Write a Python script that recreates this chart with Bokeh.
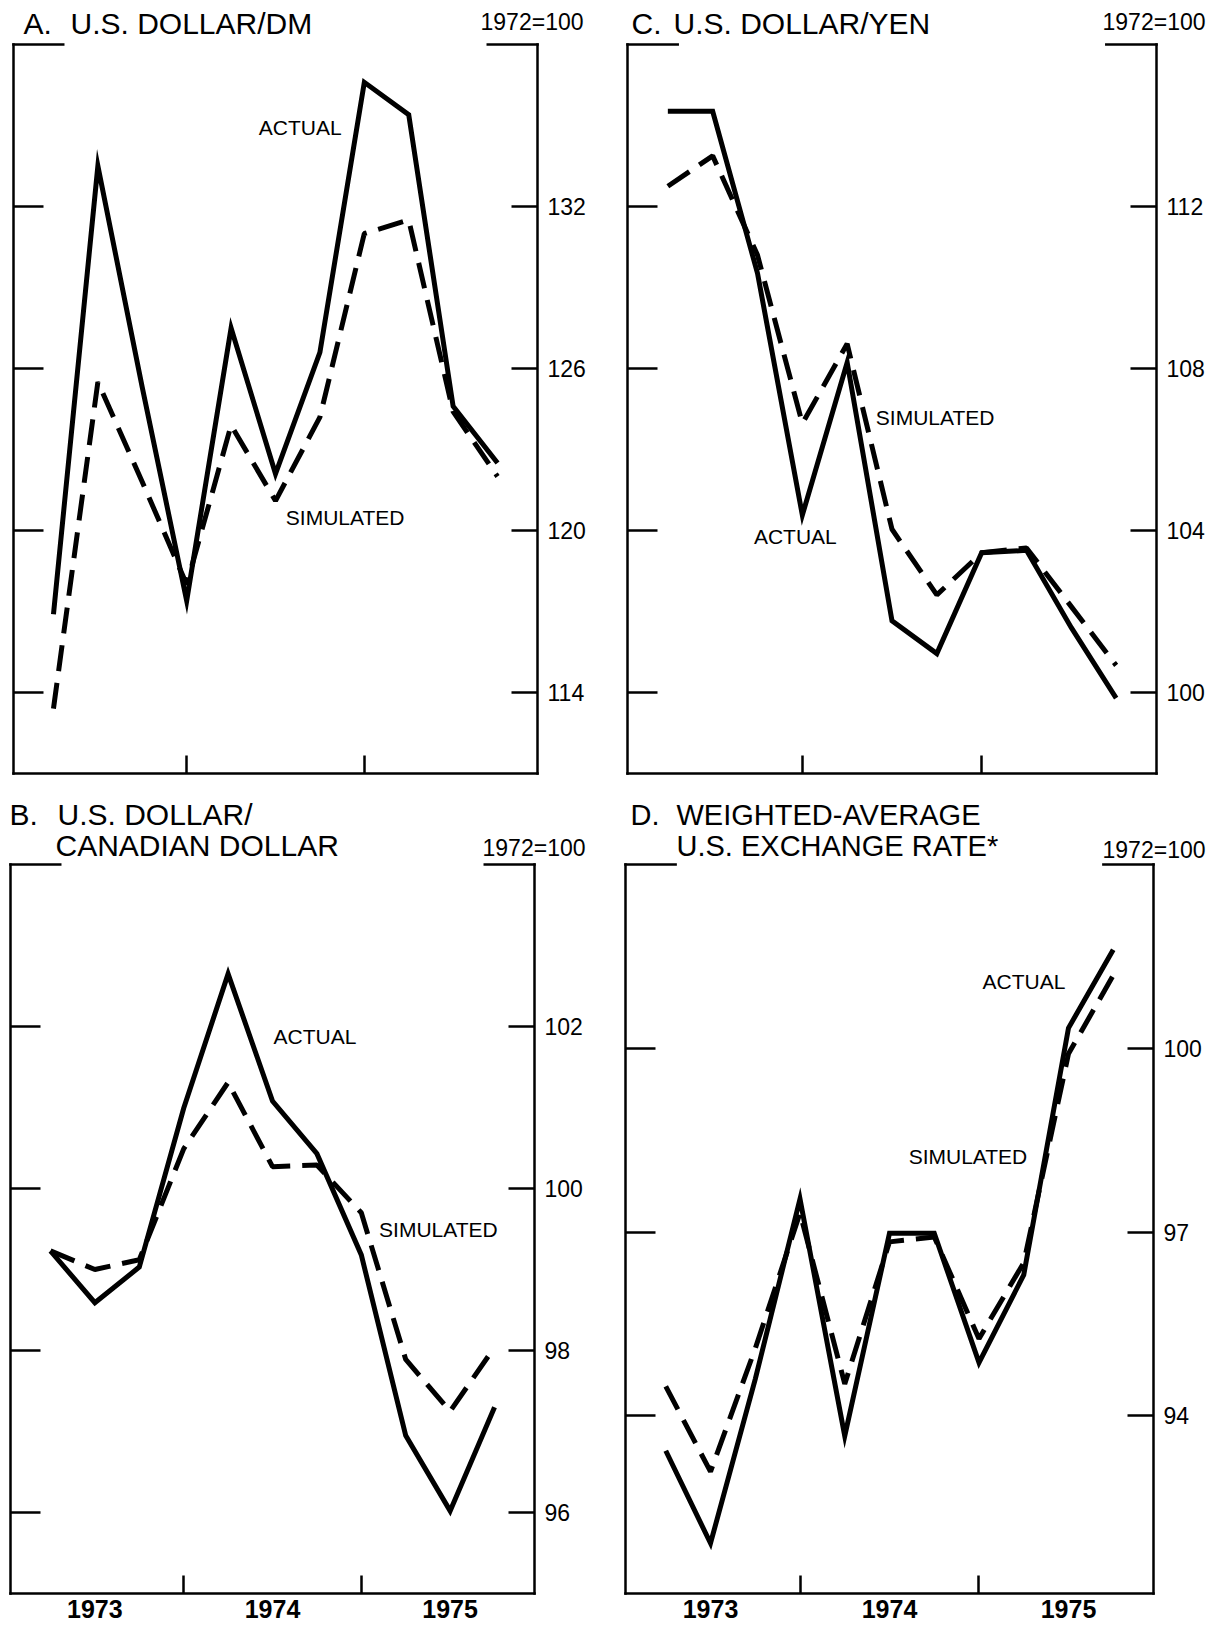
from bokeh.plotting import figure
from bokeh.models import Range1d, LinearAxis, FixedTicker, Label, ColumnDataSource
from bokeh.layouts import column, row
from bokeh.embed import file_html
from bokeh.resources import INLINE

FONT = "Liberation Sans"

# ---- data (index, 1972=100), end-of-quarter observations ----
quarters = [1973.25, 1973.5, 1973.75, 1974.0, 1974.25, 1974.5, 1974.75,
            1975.0, 1975.25, 1975.5, 1975.75]
year_labels = ["1973", "1974", "1975"]
year_centers = [1973.5, 1974.5, 1975.5]
year_bounds = [1974.0, 1975.0]

dm_actual = [116.9, 133.5, 125.3, 117.4, 127.5, 122.1, 126.6, 136.6, 135.4, 124.6, 122.5]
dm_simulated = [113.4, 125.5, 121.8, 118.0, 123.9, 121.1, 124.2, 131.0, 131.5, 124.4, 122.0]
dm_ticks = [114, 120, 126, 132]

cad_actual = [99.23, 98.59, 99.03, 100.99, 102.65, 101.08, 100.43, 99.18, 96.95, 96.02, 97.30]
cad_simulated = [99.23, 99.00, 99.12, 100.49, 101.31, 100.27, 100.29, 99.70, 97.89, 97.25, 98.04]
cad_ticks = [96, 98, 100, 102]

yen_actual = [114.35, 114.35, 110.35, 104.38, 108.15, 101.77, 100.96, 103.45, 103.51, 101.6, 99.86]
yen_simulated = [112.5, 113.25, 110.8, 106.64, 108.61, 104.03, 102.41, 103.45, 103.57, 102.12, 100.67]
yen_ticks = [100, 104, 108, 112]

wavg_actual = [93.43, 91.92, 94.60, 97.54, 93.67, 96.98, 96.98, 94.87, 96.30, 100.33, 101.61]
wavg_simulated = [94.48, 93.09, 95.10, 97.31, 94.52, 96.84, 96.92, 95.26, 96.50, 99.91, 101.19]
wavg_ticks = [94, 97, 100]

X_START, X_END = 1973.025, 1975.975
STUB = 0.28
LW = 2.5


def make_panel(W, H, box, ylims, ticks, actual, simulated, titles, unit_off,
               series_labels, show_years, title_size="30px"):
    # box: pixel position (left, right, top, bottom) of the drawn frame inside the canvas
    fx0, fx1, fy0, fy1 = box
    ylo, yhi = ylims
    ppx = (fx1 - fx0) / (X_END - X_START)
    ppy = (fy1 - fy0) / (yhi - ylo)
    xr = Range1d(X_START - fx0 / ppx, X_END + (W - fx1) / ppx)
    yr = Range1d(ylo - (H - fy1) / ppy, yhi + fy0 / ppy)

    p = figure(width=W, height=H, x_range=xr, y_range=yr,
               output_backend="svg", toolbar_location=None,
               x_axis_location=None, y_axis_location=None,
               min_border_left=0, min_border_right=0,
               min_border_top=0, min_border_bottom=0)
    p.outline_line_color = None
    p.grid.visible = False
    p.background_fill_color = "white"
    p.border_fill_color = "white"

    left_ax = LinearAxis(ticker=FixedTicker(ticks=[], minor_ticks=ticks),
                         fixed_location=X_START, bounds=(ylo, yhi),
                         major_tick_in=0, major_tick_out=0,
                         minor_tick_in=30, minor_tick_out=0,
                         axis_line_width=LW, minor_tick_line_width=LW,
                         axis_line_cap="square")
    p.add_layout(left_ax, "left")

    right_ax = LinearAxis(ticker=FixedTicker(ticks=ticks),
                          fixed_location=X_END, bounds=(ylo, yhi),
                          major_tick_in=26, major_tick_out=0,
                          minor_tick_in=0, minor_tick_out=0,
                          major_label_standoff=10,
                          major_label_text_font=FONT,
                          major_label_text_font_size="23px",
                          major_label_text_color="black",
                          axis_line_width=LW, major_tick_line_width=LW,
                          axis_line_cap="square")
    p.add_layout(right_ax, "right")

    if show_years:
        bticker = FixedTicker(ticks=year_centers, minor_ticks=year_bounds)
    else:
        bticker = FixedTicker(ticks=[], minor_ticks=year_bounds)
    bot_ax = LinearAxis(ticker=bticker, fixed_location=ylo, bounds=(X_START, X_END),
                        major_tick_in=0, major_tick_out=0,
                        minor_tick_in=18, minor_tick_out=0,
                        minor_tick_line_width=LW, axis_line_width=LW,
                        axis_line_cap="square",
                        major_label_overrides={c: l for c, l in zip(year_centers, year_labels)},
                        major_label_text_font=FONT,
                        major_label_text_font_style="bold",
                        major_label_text_color="black",
                        major_label_standoff=6,
                        major_label_text_font_size="25px")
    p.add_layout(bot_ax, "below")

    # top stubs of the frame
    p.segment(x0=[X_START, X_END - STUB], y0=[yhi, yhi],
              x1=[X_START + STUB, X_END], y1=[yhi, yhi],
              line_width=LW, line_color="black", line_cap="square")

    src = ColumnDataSource(dict(x=quarters, actual=actual, simulated=simulated))
    p.line("x", "actual", source=src, line_width=5, line_color="black", line_join="miter")
    p.line("x", "simulated", source=src, line_width=5, line_color="black",
           line_dash="26 12", line_cap="butt")

    for text, xo, yo in titles:
        p.add_layout(Label(x=X_START, y=yhi, x_offset=xo, y_offset=yo, text=text,
                           text_font=FONT, text_font_size=title_size, text_color="black",
                           text_baseline="alphabetic", text_align="left"))
    p.add_layout(Label(x=X_END, y=yhi, x_offset=unit_off[0], y_offset=unit_off[1],
                       text="1972=100", text_font=FONT, text_font_size="23px",
                       text_color="black", text_baseline="alphabetic", text_align="right"))
    for text, lx, ly in series_labels:
        p.add_layout(Label(x=lx, y=ly, text=text, text_font=FONT, text_font_size="21px",
                           text_color="black", text_baseline="middle", text_align="left"))
    return p


pA = make_panel(622, 790, (13, 537, 44, 773), (111, 138), dm_ticks, dm_actual, dm_simulated,
                [("A.", 10, 21), ("U.S. DOLLAR/DM", 57, 21)], (46, 23),
                [("ACTUAL", 1974.406, 134.93), ("SIMULATED", 1974.558, 120.48)], False)
pC = make_panel(590, 790, (5, 534, 44, 773), (98, 116), yen_ticks, yen_actual, yen_simulated,
                [("C.", 4, 21), ("U.S. DOLLAR/YEN", 46, 21)], (49, 23),
                [("SIMULATED", 1974.41, 106.8), ("ACTUAL", 1973.73, 103.85)], False)
pB = make_panel(622, 835, (10, 534, 74, 803), (95, 104), cad_ticks, cad_actual, cad_simulated,
                [("B.", -1, 50), ("U.S. DOLLAR/", 47, 50), ("CANADIAN DOLLAR", 45, 19)], (51, 17),
                [("ACTUAL", 1974.506, 101.88), ("SIMULATED", 1975.10, 99.49)], True)
pD = make_panel(590, 835, (3, 531, 74, 803), (91.1, 103.0), wavg_ticks, wavg_actual, wavg_simulated,
                [("D.", 5, 50), ("WEIGHTED-AVERAGE", 51, 50), ("U.S. EXCHANGE RATE*", 51, 19)], (52, 15),
                [("ACTUAL", 1975.02, 101.09), ("SIMULATED", 1974.607, 98.23)], True,
                title_size="29px")

layout = column(row(pA, pC), row(pB, pD))
open("out.html", "w").write(file_html(layout, INLINE))
